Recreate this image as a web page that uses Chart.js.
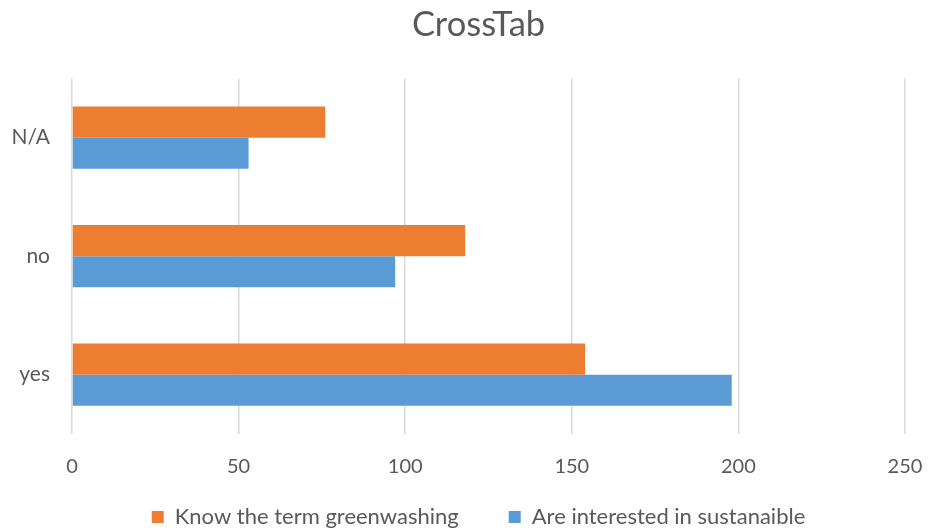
<!DOCTYPE html>
<html>
<head>
<meta charset="utf-8">
<script src="https://cdn.jsdelivr.net/npm/chart.js@4"></script>
<style>
html,body{margin:0;padding:0;background:#fff;}
#wrap{width:930px;height:530px;position:relative;}
</style>
</head>
<body>
<div id="wrap"><canvas id="c" width="930" height="530"></canvas></div>
<script>
const categories = ['N/A', 'no', 'yes'];
const knowGreenwashing = [76, 118, 154];
const interestedSustainable = [53, 97, 198];
const seriesNames = ['Know the term greenwashing', 'Are interested in sustanaible'];
const xTicks = [0, 50, 100, 150, 200, 250];

const FONT = 'Lato, "Open Sans", sans-serif';
const TXT = '#595959';

new Chart(document.getElementById('c'), {
  type: 'bar',
  data: {
    labels: categories,
    datasets: [
      { label: seriesNames[0], data: knowGreenwashing, backgroundColor: '#ED7D31', borderWidth: 0 },
      { label: seriesNames[1], data: interestedSustainable, backgroundColor: '#5B9BD5', borderWidth: 0 }
    ]
  },
  options: {
    indexAxis: 'y',
    responsive: false,
    animation: false,
    layout: { padding: { left: 0, right: -27, top: 4, bottom: -8 } },
    datasets: { bar: { barPercentage: 1.0, categoryPercentage: 0.525 } },
    plugins: {
      title: {
        display: true, text: 'CrossTab', color: TXT,
        font: { family: FONT, size: 34.5, weight: 'normal' },
        padding: { top: 0, bottom: 33 }
      },
      legend: {
        position: 'bottom',
        labels: {
          color: TXT, boxWidth: 12, boxHeight: 12, padding: 50,
          font: { family: FONT, size: 22 }
        }
      },
      tooltip: { enabled: false }
    },
    scales: {
      x: {
        min: xTicks[0], max: xTicks[xTicks.length - 1],
        afterBuildTicks: (s) => { s.ticks = xTicks.map(v => ({ value: v })); },
        afterFit: (s) => {
          s.height = 22; s.paddingRight = 25;
          s._computeLabelArea = () => undefined;
        },
        grid: { color: '#d9d9d9', lineWidth: 1.5, drawTicks: false },
        border: { display: false },
        ticks: { color: TXT, font: { family: FONT, size: 20 }, padding: 21 }
      },
      y: {
        afterFit: (s) => { s.width = 72; },
        grid: { display: false, drawTicks: false },
        border: { display: false },
        ticks: { color: TXT, font: { family: FONT, size: 21 }, padding: 22 }
      }
    }
  }
});
</script>
</body>
</html>
